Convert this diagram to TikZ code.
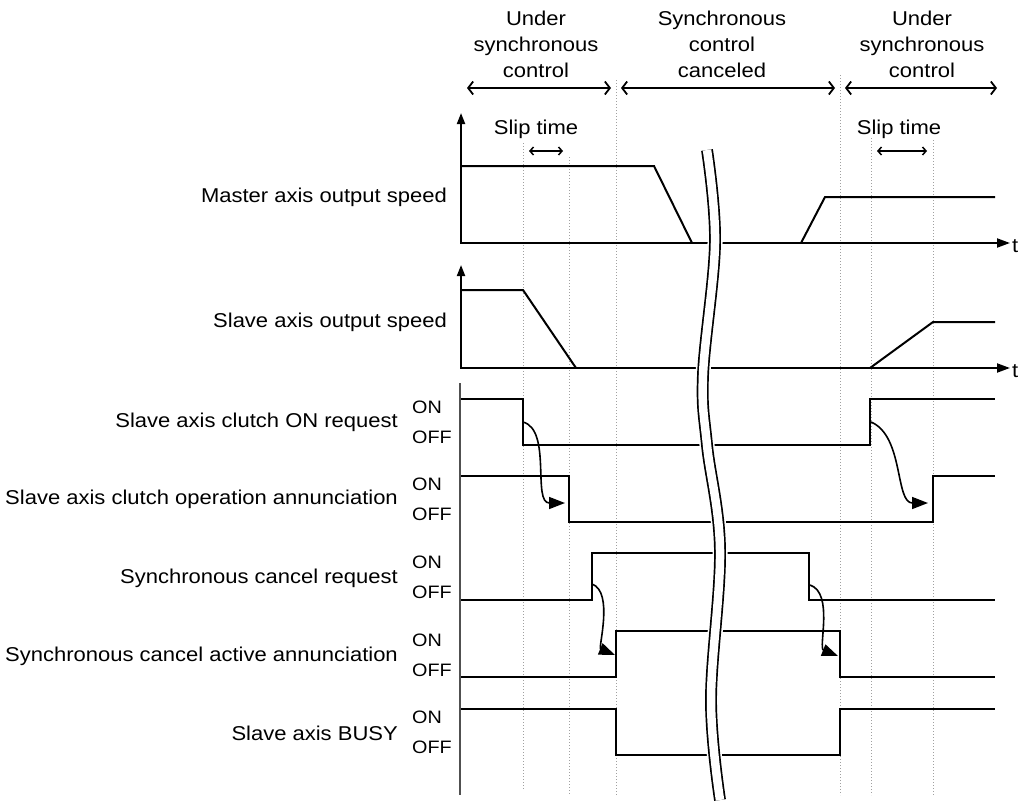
\documentclass[tikz,border=0pt]{standalone}
\usepackage{fontspec}
\setmainfont{Liberation Sans}[FakeStretch=1.1]
\usetikzlibrary{arrows.meta}
\definecolor{ink}{HTML}{000000}
\definecolor{guide}{HTML}{A0A0A0}
\definecolor{axisgray}{HTML}{505050}

\begin{document}
\begin{tikzpicture}[
  x=1pt,y=-1pt,
  font=\fontsize{20}{26}\selectfont,
  line cap=butt,line join=miter,
  sig/.style={draw=ink,line width=2pt},
  axis/.style={draw=ink,line width=2pt,{Triangle[length=11pt,width=8pt]}-{Triangle[length=13pt,width=9pt]}},
  guideline/.style={draw=guide,line width=1pt,dotted},
  phase/.style={draw=ink,line width=1.8pt,{Straight Barb[length=5pt,width=13pt]}-{Straight Barb[length=5pt,width=13pt]}},
  slip/.style={draw=ink,line width=1.5pt,{Straight Barb[length=3.5pt,width=8pt]}-{Straight Barb[length=3.5pt,width=8pt]}},
  cause/.style={draw=ink,line width=1.6pt,-{Triangle[length=16pt,width=12pt]}},
  rowlabel/.style={anchor=east,inner sep=0pt},
  level/.style={anchor=west,inner sep=0pt,font=\fontsize{18}{20}\selectfont},
  brk/.style={draw=ink,line width=1.7pt,double=white,double distance=8.5pt}
]
\useasboundingbox (0,0) rectangle (1024,800);

\node[align=center,inner sep=0pt] (phsyncA) at (536,44) {Under\\synchronous\\control};
\node[align=center,inner sep=0pt] (phcancel) at (722,44) {Synchronous\\control\\canceled};
\node[align=center,inner sep=0pt] (phsyncB) at (922,44) {Under\\synchronous\\control};
\coordinate (pa1) at (467,88); \coordinate (pa2) at (611,88);
\coordinate (pb1) at (621,88); \coordinate (pb2) at (835,88);
\coordinate (pc1) at (845,88); \coordinate (pc2) at (997,88);
\draw[phase] (pa1) -- (pa2);
\draw[phase] (pb1) -- (pb2);
\draw[phase] (pc1) -- (pc2);

\draw[guideline] (523,143) -- (523,790);
\draw[guideline] (569,157) -- (569,795);
\draw[guideline] (616,80) -- (616,795);
\draw[guideline] (840,75) -- (840,795);
\draw[guideline] (871,138) -- (871,795);
\draw[guideline] (933,140) -- (933,795);

\node[inner sep=0pt] (slipA) at (536,129) {Slip time};
\node[inner sep=0pt] (slipB) at (899,129) {Slip time};
\coordinate (sa1) at (529,151); \coordinate (sa2) at (563,151);
\coordinate (sb1) at (877,151); \coordinate (sb2) at (927,151);
\draw[slip] (sa1) -- (sa2);
\draw[slip] (sb1) -- (sb2);

\node[rowlabel] (lmaster) at (447,197) {Master axis output speed};
\node[rowlabel] (lslave) at (447,322) {Slave axis output speed};
\node[rowlabel] (lclreq) at (398,422) {Slave axis clutch ON request};
\node[rowlabel] (lclann) at (398,499) {Slave axis clutch operation annunciation};
\node[rowlabel] (lcxreq) at (398,578) {Synchronous cancel request};
\node[rowlabel] (lcxann) at (398,656) {Synchronous cancel active annunciation};
\node[rowlabel] (lbusy) at (398,733) {Slave axis BUSY};
\foreach \r/\m in {clreq/422,clann/499,cxreq/577,cxann/655,busy/732}{
  \node[level] (on\r) at (412,\m-15) {ON};
  \node[level] (off\r) at (412,\m+15) {OFF};
}

\draw[axis] (461,113) -- (461,243) -- (1010,243);
\node[anchor=west,inner sep=0pt] (tmaster) at (1012,246) {t};
\draw[sig] (461,166) -- (654,166) -- (692,243);
\draw[sig] (801,243) -- (825,197) -- (995,197);

\draw[axis] (461,265) -- (461,368) -- (1010,368);
\node[anchor=west,inner sep=0pt] (tslave) at (1012,371) {t};
\draw[sig] (461,290) -- (523,290) -- (576,368);
\draw[sig] (870,368) -- (933,322) -- (995,322);

\draw[axisgray,line width=1.6pt] (460,383) -- (460,795);
\draw[sig] (461,399) -- (523,399) -- (523,445) -- (870,445) -- (870,399) -- (995,399);
\draw[sig] (461,476) -- (569,476) -- (569,522) -- (933,522) -- (933,476) -- (995,476);
\draw[sig] (461,600) -- (592,600) -- (592,553) -- (809,553) -- (809,600) -- (995,600);
\draw[sig] (461,677) -- (616,677) -- (616,631) -- (840,631) -- (840,677) -- (995,677);
\draw[sig] (461,709) -- (616,709) -- (616,755) -- (840,755) -- (840,709) -- (995,709);

\coordinate (c1s) at (523,422); \coordinate (c1e) at (565,503);
\coordinate (c2s) at (592,584); \coordinate (c2e) at (615,655);
\coordinate (c3s) at (871,422); \coordinate (c3e) at (928,503);
\coordinate (c4s) at (810,585); \coordinate (c4e) at (838,656);
\draw[cause] (c1s) .. controls (552,430) and (532,503) .. (c1e);
\draw[cause] (c2s) .. controls (614,592) and (598,648) .. (c2e);
\draw[cause] (c3s) .. controls (904,436) and (895,503) .. (c3e);
\draw[cause] (c4s) .. controls (834,593) and (818,648) .. (c4e);

\draw[white,line width=15pt] plot[smooth,tension=0.6] coordinates
  {(707,150) (715,243) (703,375) (707,445) (720,550) (711,700) (720,800)};
\draw[brk] plot[smooth,tension=0.6] coordinates
  {(707,150) (715,243) (703,375) (707,445) (720,550) (711,700) (720,800)};
\end{tikzpicture}
\end{document}
